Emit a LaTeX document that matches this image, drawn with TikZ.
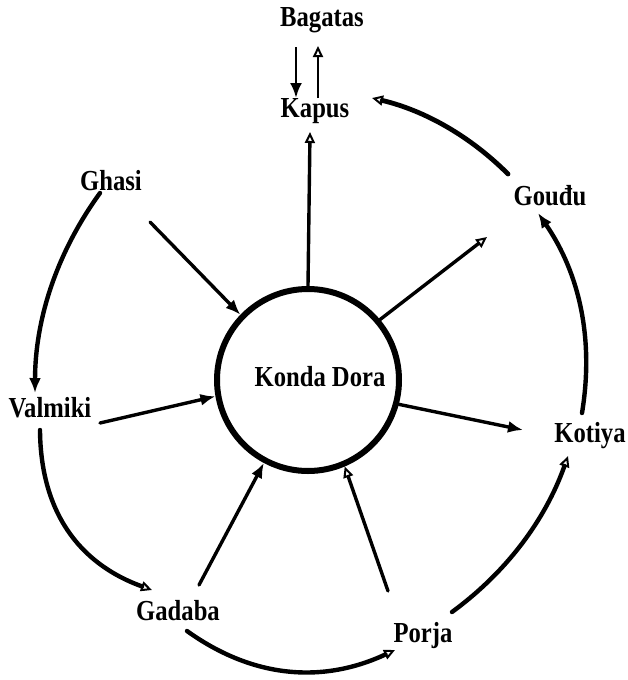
\documentclass[tikz,border=0pt]{standalone}
\usepackage{fontspec}
\setmainfont{Liberation Serif}[FakeStretch=0.85]
\usetikzlibrary{arrows.meta,calc}
\begin{document}
\begin{tikzpicture}[x=1pt,y=-1pt,
  lbl/.style={font=\fontsize{29}{30}\selectfont\bfseries, inner sep=0pt},
  ring/.style={line width=4.4pt, line cap=round},
  spoke/.style={line width=3.4pt, line cap=round},
  thin/.style={line width=2.8pt},
  solidtip/.style={-{Latex[length=15pt,width=12pt]}},
  opentip/.style={-{Triangle[open,length=11pt,width=10pt,line width=2pt]}},
]
\useasboundingbox (0,0) rectangle (628,680);

% nodes
\node[circle, draw, line width=6pt, minimum size=182pt, inner sep=0pt] (kd) at (308,380) {};
\node[lbl] (kdl) at (320,377) {Konda Dora};
\node[lbl] (bag) at (322,20) {Bagatas};
\node[lbl] (kap) at (315,111) {Kapus};
\node[lbl] (gha) at (111,181) {Ghasi};
\node[lbl] (gou) at (550,196) {Gouđu};
\node[lbl] (val) at (50,408) {Valmiki};
\node[lbl] (kot) at (590,436) {Kotiya};
\node[lbl] (gad) at (178,611) {Gadaba};
\node[lbl] (por) at (423,636) {Porja};

% Bagatas <-> Kapus
\draw[thin, solidtip] ($(bag)+(-26,27)$) -- ($(kap)+(-19,-13)$);
\draw[thin, opentip] ($(kap)+(3,-13)$) -- ($(bag)+(-4,26)$);

% outer ring
\draw[ring, line width=4.8pt, opentip] ($(gou)+(-42,-22)$) .. controls (470,136) and (424.5,110.5) .. ($(kap)+(57,-13)$);
\draw[ring, solidtip] ($(kot)+(-8,-23)$) .. controls (594,340) and (580,274) .. ($(gou)+(-12,17)$);
\draw[ring, opentip] ($(por)+(29,-24)$) .. controls (506.7,571.9) and (545.3,519.9) .. ($(kot)+(-22,20)$);
\draw[ring, opentip] ($(gad)+(9,20)$) .. controls (252.6,678) and (322,684) .. ($(por)+(-28,14)$);
\draw[ring, opentip] ($(val)+(-10,22)$) .. controls (40.6,510.7) and (78,563.3) .. ($(gad)+(-26,-21)$);
\draw[ring, solidtip] ($(gha)+(-11,12)$) .. controls (56.7,252.7) and (35.1,319.3) .. ($(val)+(-15,-15)$);

% spokes
\draw[spoke, opentip] (kd.90) -- ($(kap)+(-5,21)$);
\draw[spoke, solidtip] ($(gha)+(39,41)$) -- (kd.136);
\draw[spoke, solidtip] ($(val)+(50,15)$) -- (kd.190);
\draw[spoke, solidtip] ($(gad)+(21,-26)$) -- (kd.242);
\draw[spoke, opentip] ($(por)+(-35,-45)$) -- (kd.293);
\draw[spoke, opentip] (kd.40) -- ($(gou)+(-63,41)$);
\draw[spoke, solidtip] (kd.345) -- ($(kot)+(-67,-6)$);
\end{tikzpicture}
\end{document}
